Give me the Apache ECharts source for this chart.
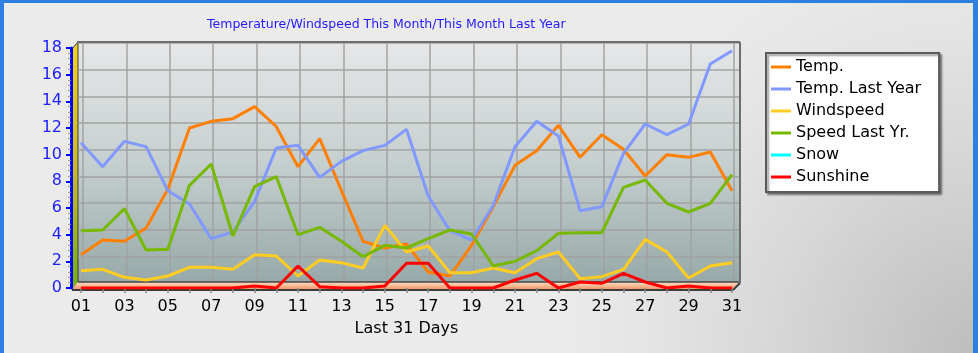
<!DOCTYPE html>
<html>
<head>
<meta charset="utf-8">
<script src="https://cdn.jsdelivr.net/npm/echarts@6/dist/echarts.min.js"></script>
<style>
html, body { margin: 0; padding: 0; background: #e4e4e4; }
#mychart { width: 978px; height: 353px; }
</style>
</head>
<body>
<div id="mychart"></div>
<script>
// x轴 - 最近31天
var days = ['01', '02', '03', '04', '05', '06', '07', '08', '09', '10', '11', '12', '13', '14', '15', '16',
    '17', '18', '19', '20', '21', '22', '23', '24', '25', '26', '27', '28', '29', '30', '31'];

var temp = [2.5, 3.6, 3.5, 4.5, 7.4, 12.0, 12.5, 12.7, 13.6, 12.1, 9.1, 11.2, 7.3, 3.5, 3.0, 3.3,
    1.2, 0.9, 3.2, 6.1, 9.2, 10.3, 12.2, 9.8, 11.5, 10.4, 8.4, 10.0, 9.8, 10.2, 7.3];
var tempLastYear = [10.9, 9.1, 11.0, 10.6, 7.3, 6.3, 3.7, 4.2, 6.5, 10.5, 10.7, 8.3, 9.5, 10.3, 10.7, 11.9,
    6.9, 4.3, 3.6, 6.2, 10.6, 12.5, 11.4, 5.8, 6.1, 10.1, 12.3, 11.5, 12.3, 16.8, 17.8];
var windspeed = [1.3, 1.4, 0.8, 0.6, 0.9, 1.55, 1.55, 1.4, 2.5, 2.4, 0.9, 2.1, 1.9, 1.5, 4.7, 2.7,
    3.15, 1.15, 1.15, 1.5, 1.15, 2.2, 2.7, 0.7, 0.85, 1.4, 3.65, 2.7, 0.75, 1.65, 1.9];
var speedLastYr = [4.3, 4.35, 5.95, 2.85, 2.9, 7.7, 9.3, 3.9, 7.6, 8.35, 4.0, 4.55, 3.5, 2.35, 3.2, 3.0,
    3.7, 4.35, 4.05, 1.65, 2.0, 2.8, 4.1, 4.15, 4.15, 7.55, 8.1, 6.35, 5.7, 6.35, 8.5];
var snow = []; // 没有降雪数据
var sunshine = [0, 0, 0, 0, 0, 0, 0, 0, 0.15, 0, 1.65, 0.1, 0, 0, 0.15, 1.85,
    1.85, 0, 0, 0, 0.6, 1.1, 0, 0.45, 0.35, 1.1, 0.45, 0, 0.15, 0, 0];

var seriesNames = ['Temp.', 'Temp. Last Year', 'Windspeed', 'Speed Last Yr.', 'Snow', 'Sunshine'];
var seriesColors = ['#ff8000', '#8199ff', '#ffcc22', '#77b800', '#00ffff', '#ff0000'];
var seriesData = [temp, tempLastYear, windspeed, speedLastYr, snow, sunshine];

var yMin = 0, yMax = 18, yStep = 2;

var font = 'DejaVu Sans';
var myChart = echarts.init(document.getElementById('mychart'));

var series = [];
for (var i = 0; i < seriesNames.length; i++) {
    series.push({
        name: seriesNames[i],
        type: 'line',
        xAxisIndex: 2,
        yAxisIndex: 2,
        symbol: 'none',
        z: 5,
        color: seriesColors[i],
        lineStyle: { width: 3, color: seriesColors[i] },
        data: seriesData[i]
    });
}

var gridLine = { show: true, lineStyle: { color: 'rgba(160,160,160,0.7)', width: 2 } };

myChart.setOption({
    animation: false,
    title: {
        text: 'Temperature/Windspeed This Month/This Month Last Year',
        left: 207,
        top: 18,
        padding: 0,
        textStyle: { fontFamily: font, fontSize: 12.5, fontWeight: 'normal', color: '#2318ff' }
    },
    legend: {
        orient: 'vertical',
        left: 766,
        top: 53,
        padding: [6, 18, 7, 5],
        itemGap: 6,
        icon: 'rect',
        itemWidth: 20,
        itemHeight: 3,
        backgroundColor: '#ffffff',
        borderColor: '#5a5a5a',
        borderWidth: 2,
        shadowColor: 'rgba(0,0,0,0.4)',
        shadowBlur: 2,
        shadowOffsetX: 2,
        shadowOffsetY: 2,
        textStyle: { fontFamily: font, fontSize: 16, color: '#000', lineHeight: 16 },
        data: seriesNames
    },
    graphic: [
        // 背景
        { type: 'rect', z: 0, silent: true, shape: { x: 0, y: 0, width: 978, height: 353 },
          style: { fill: new echarts.graphic.RadialGradient(1, 1, 1.2, [
              { offset: 0, color: '#bdbdbd' }, { offset: 0.5, color: '#d8d8d8' },
              { offset: 0.8, color: '#e5e5e5' }, { offset: 1, color: '#ebebeb' }]) } },
        // 后墙
        { type: 'rect', z: 0, silent: true, shape: { x: 78, y: 42, width: 661, height: 241 },
          style: { fill: new echarts.graphic.LinearGradient(0, 0, 0, 1, [
              { offset: 0, color: '#e6e7e8' }, { offset: 0.5, color: '#c6cfcf' }, { offset: 1, color: '#96a9a8' }]) } },
        // 左墙
        { type: 'polygon', z: 1, silent: true, shape: { points: [[72, 49], [78, 42], [78, 283], [72, 289]] },
          style: { fill: new echarts.graphic.LinearGradient(0, 0, 0, 1, [
              { offset: 0, color: '#f2d21c' }, { offset: 0.55, color: '#c4b82a' }, { offset: 1, color: '#72b012' }]),
              stroke: '#3a3a3a', lineWidth: 1 } },
        // 地板
        { type: 'polygon', z: 2, silent: true, shape: { points: [[72, 289], [733, 289], [739, 282], [78, 282]] },
          style: { fill: new echarts.graphic.LinearGradient(0, 0, 0, 1, [
              { offset: 0, color: '#ffe0c8' }, { offset: 1, color: '#f09868' }]) } },
        { type: 'line', z: 2, silent: true, shape: { x1: 78, y1: 282, x2: 739, y2: 282 }, style: { stroke: '#444', lineWidth: 1.5 } },
        { type: 'line', z: 2, silent: true, shape: { x1: 72, y1: 290, x2: 733, y2: 290 }, style: { stroke: '#3c3c3c', lineWidth: 2 } },
        { type: 'line', z: 2, silent: true, shape: { x1: 733, y1: 290, x2: 740, y2: 283 }, style: { stroke: '#3c3c3c', lineWidth: 2 } },
        // 边框
        { type: 'line', z: 2, silent: true, shape: { x1: 77, y1: 42, x2: 740, y2: 42 }, style: { stroke: '#6e6e6e', lineWidth: 2 } },
        { type: 'line', z: 2, silent: true, shape: { x1: 740, y1: 42, x2: 740, y2: 283 }, style: { stroke: '#6e6e6e', lineWidth: 2 } },
        { type: 'line', z: 2, silent: true, shape: { x1: 72, y1: 49, x2: 78, y2: 42 }, style: { stroke: '#6e6e6e', lineWidth: 1 } },
        // 蓝色外框
        { type: 'rect', z: 6, silent: true, shape: { x: 0, y: 0, width: 978, height: 3 }, style: { fill: '#2d7fe0' } },
        { type: 'rect', z: 6, silent: true, shape: { x: 0, y: 0, width: 4, height: 353 }, style: { fill: '#2d7fe0' } },
        { type: 'rect', z: 6, silent: true, shape: { x: 973, y: 0, width: 5, height: 353 }, style: { fill: '#2d7fe0' } }
    ],
    grid: [
        { left: 78, right: 239, top: 43, bottom: 70 },
        { left: 83, right: 244, top: 43, bottom: 70 },
        { left: 81, right: 246, top: 48, bottom: 65 }
    ],
    xAxis: [
        { gridIndex: 0, type: 'value', min: 0, max: 1, show: false },
        { gridIndex: 1, type: 'category', boundaryGap: false, data: days, z: 1,
          axisLine: { show: false }, axisTick: { show: false }, axisLabel: { show: false },
          splitLine: { show: true, interval: 1, lineStyle: gridLine.lineStyle } },
        { gridIndex: 2, type: 'category', boundaryGap: false, data: days, z: 3, offset: 2,
          axisLine: { show: false },
          axisTick: { show: true, interval: 0, length: 5, lineStyle: { color: '#8a8a8a', width: 1.5 } },
          axisLabel: { interval: 1, margin: 9, fontFamily: font, fontSize: 16, color: '#000' },
          splitLine: { show: false },
          name: 'Last 31 Days', nameLocation: 'middle', nameGap: 31,
          nameTextStyle: { fontFamily: font, fontSize: 16, color: '#000' } }
    ],
    yAxis: [
        { gridIndex: 0, type: 'value', min: yMin, max: yMax, interval: yStep, z: 1,
          axisLine: { show: false }, axisTick: { show: false }, axisLabel: { show: false },
          splitLine: gridLine },
        { gridIndex: 1, type: 'value', min: yMin, max: yMax, interval: yStep, show: false },
        { gridIndex: 2, type: 'value', min: yMin, max: yMax, interval: yStep, z: 3, offset: 10,
          axisLine: { show: true, lineStyle: { color: '#0000ff', width: 3 } },
          axisTick: { show: true, length: 5, lineStyle: { color: '#0000ff', width: 2 } },
          minorTick: { show: true, splitNumber: 5, length: 3, lineStyle: { color: '#999' } },
          axisLabel: { margin: 9, fontFamily: font, fontSize: 16, color: '#2020ff' },
          splitLine: { show: false } }
    ],
    series: series
});
</script>
</body>
</html>
